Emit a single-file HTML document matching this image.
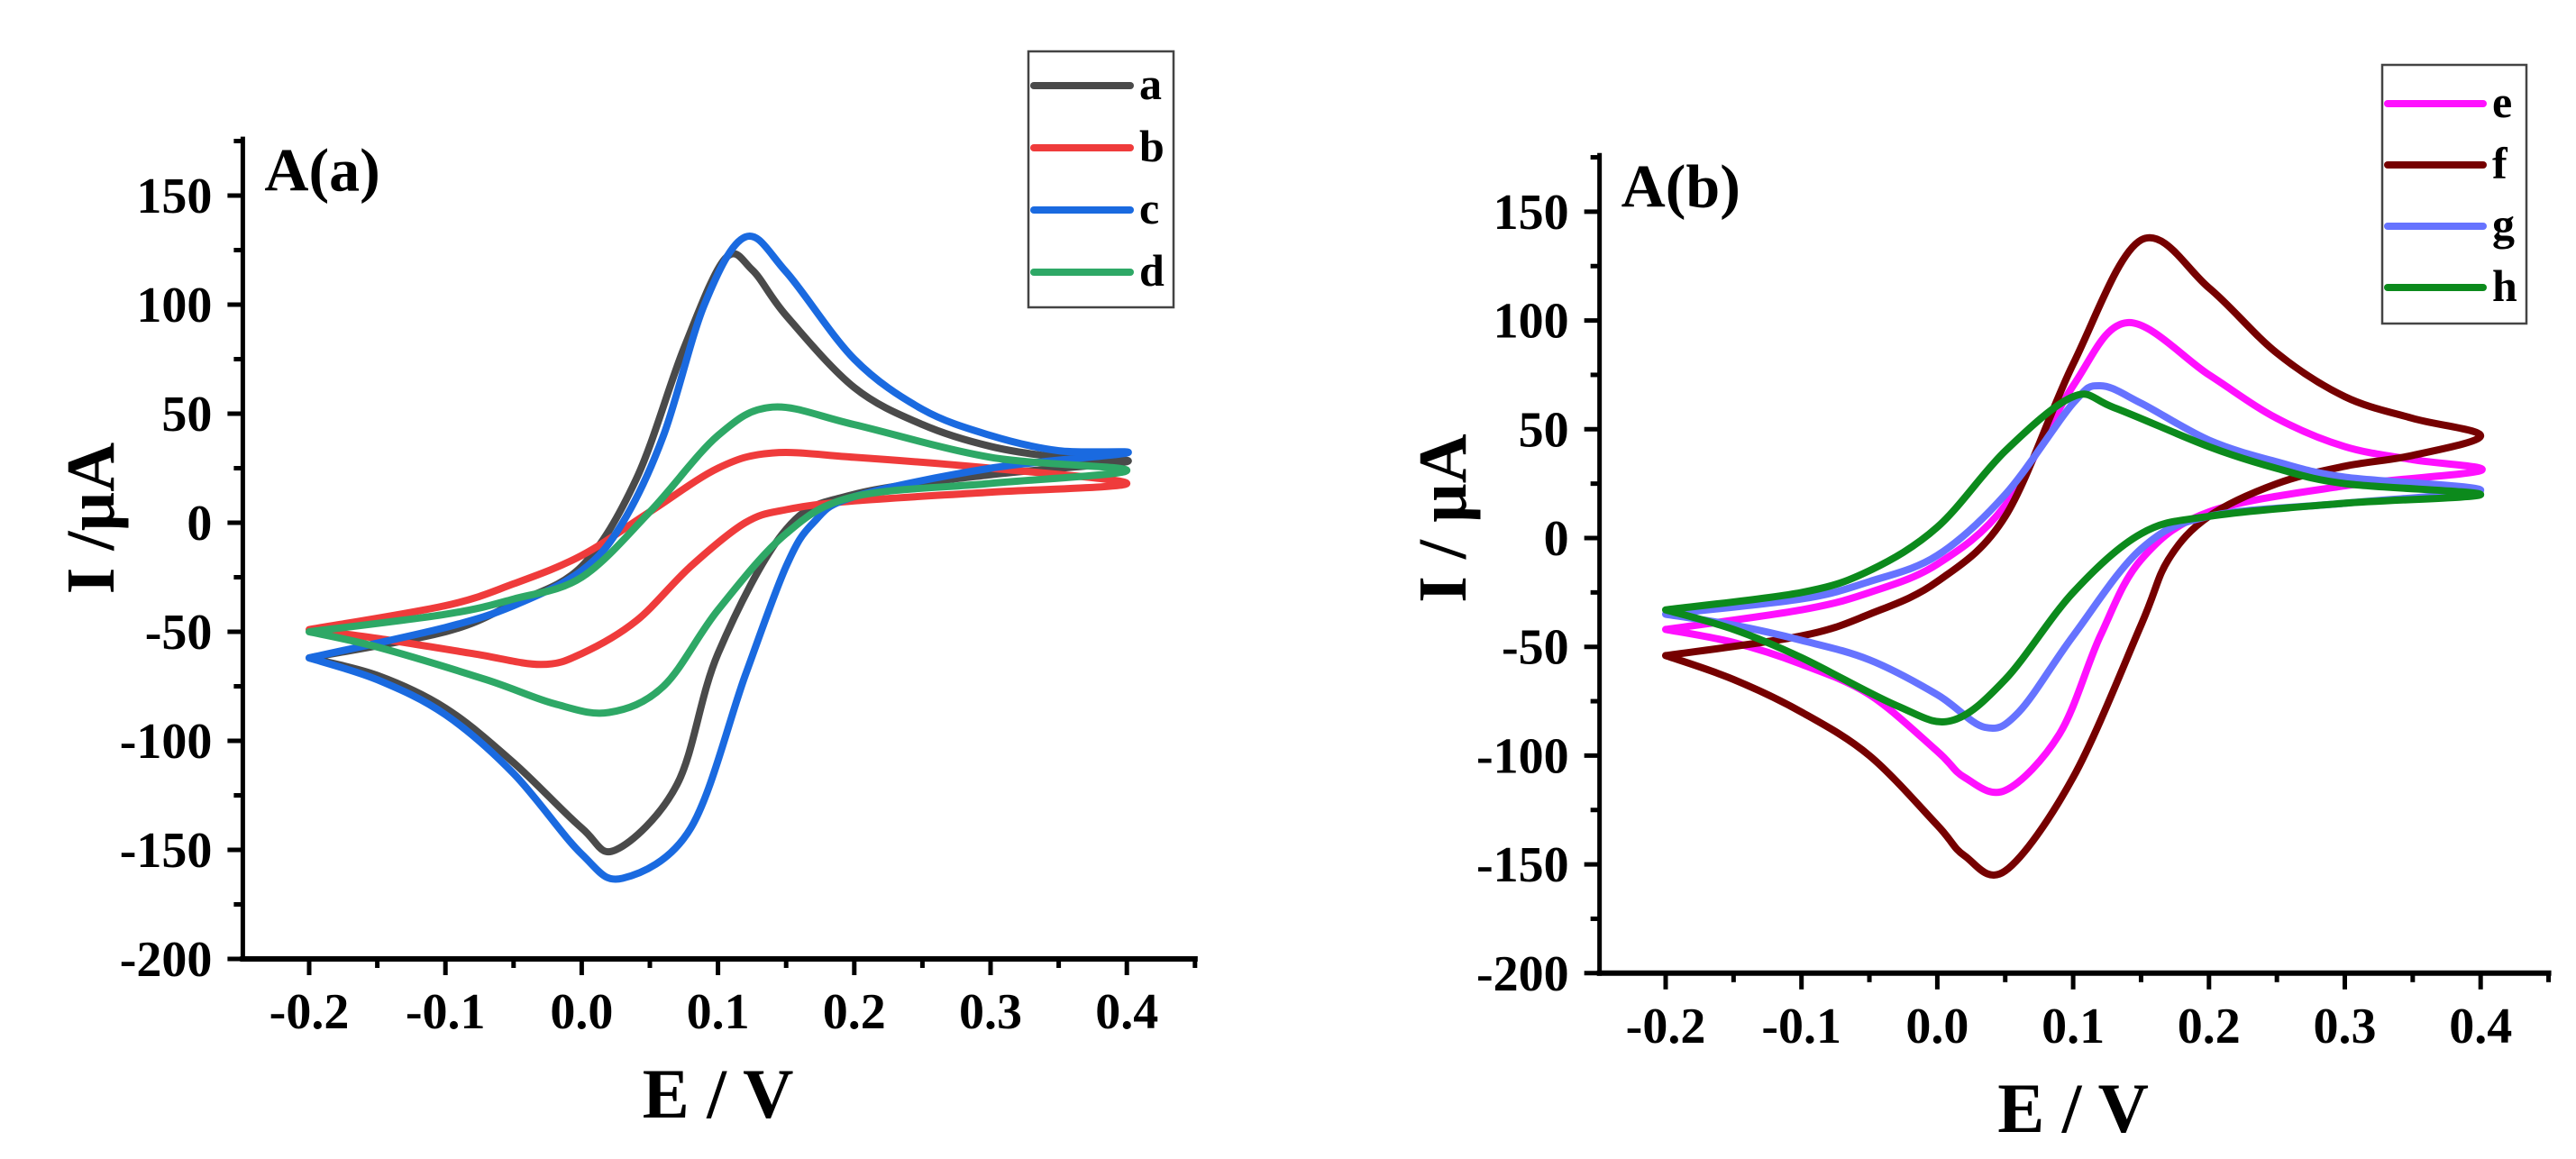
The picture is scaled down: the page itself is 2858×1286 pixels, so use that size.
<!DOCTYPE html>
<html><head><meta charset="utf-8"><style>
html,body{margin:0;padding:0;background:#fff;}
svg{display:block;}
text{font-family:"Liberation Serif",serif;font-weight:bold;fill:#000;}
</style></head><body>
<svg id="fig" width="2858" height="1286" viewBox="0 0 2858 1286" xmlns="http://www.w3.org/2000/svg"></svg>
<script>
// ---- data: left panel A(a) ----
const aE=[-0.2,-0.1,-0.05,0,0.04,0.075,0.105,0.125,0.15,0.2,0.25,0.3,0.35,0.4,0.3,0.2,0.15,0.1,0.07,0.025,0,-0.05,-0.1,-0.15,-0.2];
const aI=[-62,-50,-37,-20,20,80,121,116,95,62,45,35,30,28,22,13,-3,-60,-120,-150,-140,-110,-85,-70,-62];
const bE=[-0.2,-0.1,-0.05,0,0.05,0.1,0.14,0.2,0.3,0.4,0.3,0.2,0.15,0.12,0.08,0.04,0,-0.03,-0.08,-0.15,-0.2];
const bI=[-49,-38,-28,-15,5,25,32,30,25,18,14,10,6,0,-20,-45,-60,-65,-60,-53,-49];
const cE=[-0.2,-0.1,-0.05,0,0.03,0.06,0.09,0.12,0.15,0.2,0.25,0.3,0.35,0.4,0.3,0.2,0.17,0.15,0.12,0.08,0.03,0,-0.05,-0.1,-0.15,-0.2];
const cI=[-62,-48,-38,-22,0,40,100,131,115,75,52,40,33,32,25,12,0,-20,-70,-140,-163,-152,-115,-88,-72,-62];
const dE=[-0.2,-0.1,-0.05,0,0.05,0.1,0.14,0.2,0.3,0.4,0.3,0.2,0.15,0.1,0.06,0.02,-0.02,-0.07,-0.15,-0.2];
const dI=[-50,-42,-35,-25,5,40,53,45,30,24,18,12,-5,-40,-75,-87,-83,-72,-57,-50];
// ---- data: right panel A(b) ----
const eE=[-0.2,-0.1,-0.05,0,0.05,0.1,0.14,0.2,0.25,0.3,0.35,0.4,0.3,0.2,0.15,0.12,0.09,0.05,0.02,0,-0.05,-0.1,-0.15,-0.2];
const eI=[-42,-33,-25,-12,15,70,99,75,55,42,36,31,24,12,-10,-45,-90,-116,-110,-98,-72,-58,-48,-42];
const fE=[-0.2,-0.1,-0.05,0,0.05,0.1,0.15,0.2,0.25,0.3,0.35,0.4,0.35,0.3,0.25,0.2,0.17,0.15,0.1,0.05,0.02,0,-0.05,-0.1,-0.15,-0.2];
const fI=[-54,-45,-35,-20,10,80,137,115,85,65,55,47,38,33,25,10,-10,-40,-110,-153,-146,-132,-100,-80,-65,-54];
const gE=[-0.2,-0.1,-0.05,0,0.05,0.1,0.12,0.15,0.2,0.25,0.3,0.4,0.3,0.2,0.15,0.1,0.06,0.035,0,-0.05,-0.1,-0.15,-0.2];
const gI=[-35,-28,-20,-8,20,62,70,62,45,35,28,22,16,10,-5,-45,-80,-87,-72,-56,-47,-40,-35];
const hE=[-0.2,-0.1,-0.05,0,0.05,0.1,0.13,0.2,0.25,0.3,0.4,0.3,0.2,0.15,0.1,0.05,0.01,-0.03,-0.1,-0.15,-0.2];
const hI=[-33,-25,-15,5,40,65,60,42,32,25,20,16,10,2,-25,-65,-84,-77,-55,-42,-33];
const xTicks=[-0.2,-0.1,0.0,0.1,0.2,0.3,0.4];
const xTickLabels=["-0.2","-0.1","0.0","0.1","0.2","0.3","0.4"];
const yTicks=[150,100,50,0,-50,-100,-150,-200];
const yTickLabels=["150","100","50","0","-50","-100","-150","-200"];

const NS="http://www.w3.org/2000/svg";
const svg=document.getElementById('fig');
function mk(tag,attrs,parent){const el=document.createElementNS(NS,tag);for(const k in attrs)el.setAttribute(k,attrs[k]);(parent||svg).appendChild(el);return el;}

function panel(cfg){
  const g=mk('g',{});
  
  
  const X=v=>cfg.x0+(v-(-0.2))*cfg.xs;
  const Y=v=>cfg.y0-v*cfg.ys;
  const left=X(-0.25)+2, right=X(0.452), top=Y(177), bot=Y(-200);
  cfg.series.forEach(s=>{
    const pts=s.E.map((e,i)=>[X(e),Y(s.I[i])]);
    let d='M'+pts[0][0].toFixed(1)+','+pts[0][1].toFixed(1);
    for(let i=0;i<pts.length-1;i++){
      const p0=pts[Math.max(0,i-1)],p1=pts[i],p2=pts[i+1],p3=pts[Math.min(pts.length-1,i+2)];
      const c1=[p1[0]+(p2[0]-p0[0])/6,p1[1]+(p2[1]-p0[1])/6];
      const c2=[p2[0]-(p3[0]-p1[0])/6,p2[1]-(p3[1]-p1[1])/6];
      d+=' C'+c1[0].toFixed(1)+','+c1[1].toFixed(1)+' '+c2[0].toFixed(1)+','+c2[1].toFixed(1)+' '+p2[0].toFixed(1)+','+p2[1].toFixed(1);
    }
    const p=mk('path',{d:d,fill:'none',stroke:s.color,'stroke-width':8,'stroke-linejoin':'round','stroke-linecap':'round'},g);
    
    
  });
  const ya=mk('line',{x1:left,y1:top,x2:left,y2:bot+3,stroke:'#000','stroke-width':5},g);
  
  
  const xa=mk('line',{x1:left-3,y1:bot,x2:right,y2:bot,stroke:'#000','stroke-width':6},g);
  
  
  for(let v=-200;v<=175;v+=25){
    const major=(v%50===0);
    mk('line',{x1:left,y1:Y(v),x2:left-(major?17:10),y2:Y(v),stroke:'#000','stroke-width':5},g);
  }
  yTicks.forEach((v,i)=>{
    const t=mk('text',{x:left-34,y:Y(v)+19,'text-anchor':'end','font-size':56},g);
    t.textContent=yTickLabels[i];
    
    
  });
  for(let k=-5;k<=9;k++){
    const v=k*0.05; const major=(k%2===0);
    if(X(v)<left+2) continue;
    mk('line',{x1:X(v),y1:bot,x2:X(v),y2:bot+(major?18:10),stroke:'#000','stroke-width':5},g);
  }
  xTicks.forEach((v,i)=>{
    const t=mk('text',{x:X(v),y:bot+77,'text-anchor':'middle','font-size':56},g);
    t.textContent=xTickLabels[i];
    
    
  });
  const xt=mk('text',{x:(X(-0.2)+X(0.4))/2+(cfg.xtOff||0),y:bot+176,'text-anchor':'middle','font-size':78},g);
  xt.textContent='E / V';
  
  
  const yt=mk('text',{x:0,y:0,'text-anchor':'middle','font-size':76,transform:'translate('+(cfg.ytX)+','+cfg.ytY+') rotate(-90)'},g);
  yt.textContent=cfg.ytText;
  
  
  const ti=mk('text',{x:left+24,y:top+60,'font-size':68},g);
  ti.textContent=cfg.title;
  
  
  const L=cfg.legend;
  const lb=mk('rect',{x:L.x,y:L.y,width:L.w,height:L.h,fill:'#fff',stroke:'#444','stroke-width':2.5},g);
  
  
  cfg.series.forEach((s,i)=>{
    const yy=L.y+L.first+i*L.step;
    const le=mk('g',{},g);
    
    
    mk('line',{x1:L.x+6,y1:yy,x2:L.x+L.lineW,y2:yy,stroke:s.color,'stroke-width':8,'stroke-linecap':'round'},le);
    const t=mk('text',{x:L.x+L.lineW+10,y:yy+15,'font-size':50},le);
    t.textContent=s.key;
  });
}

panel({name:'panel-a',x0:343,xs:1512,y0:580,ys:2.42,title:'A(a)',ytText:'I /µA',ytX:126,ytY:575,
  legend:{x:1141,y:57,w:161,h:284,first:38,step:69,lineW:113},
  series:[{key:'a',E:aE,I:aI,color:'#4a4a4a'},{key:'b',E:bE,I:bI,color:'#ef3b3b'},{key:'c',E:cE,I:cI,color:'#1a6ae0'},{key:'d',E:dE,I:dI,color:'#2ea866'}]});
panel({name:'panel-b',x0:1848,xs:1507,y0:597,ys:2.414,title:'A(b)',ytText:'I / µA',ytX:1626,ytY:575,
  legend:{x:2643,y:72,w:160,h:287,first:43,step:68,lineW:112},
  series:[{key:'e',E:eE,I:eI,color:'#ff10ff'},{key:'f',E:fE,I:fI,color:'#760000'},{key:'g',E:gE,I:gI,color:'#6673ff'},{key:'h',E:hE,I:hI,color:'#0c8a1c'}]});
</script>
</body></html>
